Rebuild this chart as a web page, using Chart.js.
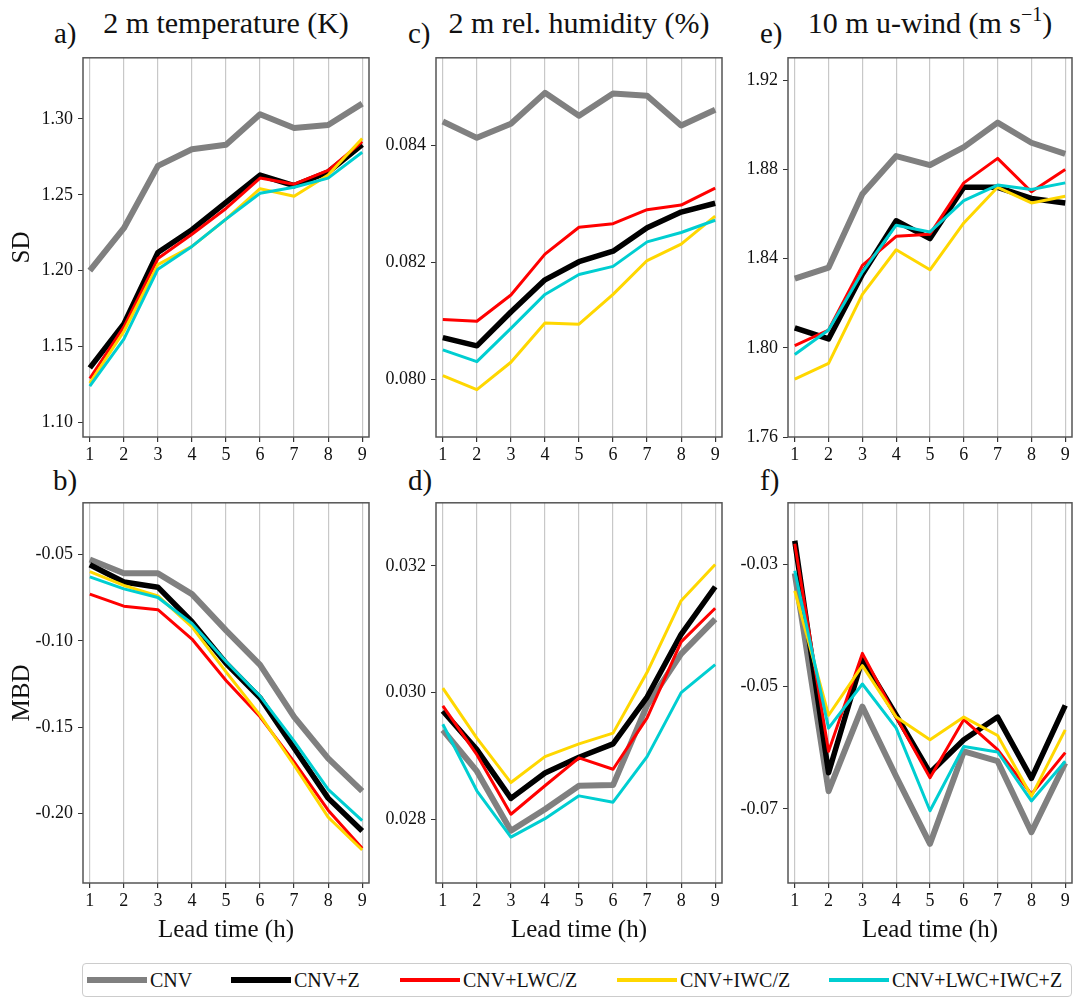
<!DOCTYPE html>
<html>
<head>
<meta charset="utf-8">
<title>SD and MBD by lead time</title>
<script src="https://cdn.jsdelivr.net/npm/chart.js@4.4.1/dist/chart.umd.min.js"></script>
<style>
    body {
        margin: 0;
        width: 1074px;
        height: 998px;
        overflow: hidden;
        position: relative;
        background: #fff;
        color: #111;
        font-family: "Liberation Serif", "Times New Roman", serif;
    }
    canvas { position: absolute; }
    .tag { position: absolute; font-size: 29px; line-height: 29px; }
    .head { position: absolute; font-size: 30px; line-height: 30px; text-align: center; white-space: nowrap; }
    .head sup { font-size: 20px; vertical-align: 12px; line-height: 0; }
    #legend {
        position: absolute; left: 82px; top: 963px; width: 990px; height: 34px;
        border: 1px solid #ccc; border-radius: 4px; box-sizing: border-box;
    }
    #legend .swatch { position: absolute; top: 16px; }
    #legend .label { position: absolute; top: 6px; font-size: 20px; line-height: 20px; white-space: nowrap; }
</style>
</head>
<body>

<div class="tag" style="left:54px;top:19px">a)</div>
<div class="tag" style="left:408px;top:19px">c)</div>
<div class="tag" style="left:760px;top:19px">e)</div>
<div class="tag" style="left:53px;top:466px">b)</div>
<div class="tag" style="left:408px;top:466px">d)</div>
<div class="tag" style="left:760px;top:466px">f)</div>

<div class="head" style="left:83px;width:286px;top:8px">2 m temperature (K)</div>
<div class="head" style="left:436px;width:286px;top:8px">2 m rel. humidity (%)</div>
<div class="head" style="left:788px;width:284px;top:8px">10 m u-wind (m s<sup>−1</sup>)</div>

<div id="legend"></div>

<script>
const FONT = '"Liberation Serif", "Times New Roman", serif';

const leadTimes = [1, 2, 3, 4, 5, 6, 7, 8, 9];
const seriesNames = ['CNV', 'CNV+Z', 'CNV+LWC/Z', 'CNV+IWC/Z', 'CNV+LWC+IWC+Z'];
const seriesColors = ['#808080', '#000000', '#ff0000', '#ffd700', '#00ced1'];
const seriesWidths = [6, 5.5, 3, 3, 3];

// rows follow seriesNames
const sdT2m = [
    [1.200, 1.228, 1.269, 1.280, 1.283, 1.303, 1.294, 1.296, 1.310],
    [1.136, 1.165, 1.212, 1.227, 1.245, 1.263, 1.256, 1.265, 1.283],
    [1.129, 1.163, 1.208, 1.224, 1.241, 1.261, 1.257, 1.266, 1.285],
    [1.126, 1.160, 1.204, 1.216, 1.234, 1.254, 1.249, 1.263, 1.287],
    [1.124, 1.155, 1.201, 1.216, 1.234, 1.251, 1.255, 1.261, 1.278]
];
const mbdT2m = [
    [-0.053, -0.061, -0.061, -0.073, -0.094, -0.114, -0.144, -0.168, -0.187],
    [-0.056, -0.066, -0.069, -0.089, -0.113, -0.133, -0.162, -0.191, -0.210],
    [-0.073, -0.080, -0.082, -0.099, -0.123, -0.144, -0.170, -0.198, -0.220],
    [-0.060, -0.068, -0.074, -0.092, -0.118, -0.143, -0.172, -0.202, -0.221],
    [-0.063, -0.070, -0.075, -0.090, -0.112, -0.132, -0.158, -0.186, -0.204]
];
const sdRh2m = [
    [0.08441, 0.08413, 0.08437, 0.08490, 0.08451, 0.08489, 0.08485, 0.08434, 0.08461],
    [0.08071, 0.08057, 0.08115, 0.08170, 0.08201, 0.08219, 0.08259, 0.08286, 0.08301],
    [0.08102, 0.08099, 0.08144, 0.08214, 0.08260, 0.08266, 0.08290, 0.08298, 0.08327],
    [0.08006, 0.07982, 0.08029, 0.08096, 0.08094, 0.08145, 0.08203, 0.08231, 0.08279],
    [0.08050, 0.08030, 0.08087, 0.08145, 0.08179, 0.08193, 0.08235, 0.08251, 0.08272]
];
const mbdRh2m = [
    [0.02941, 0.02876, 0.02782, 0.02816, 0.02853, 0.02854, 0.02980, 0.03061, 0.03116],
    [0.02971, 0.02910, 0.02833, 0.02873, 0.02898, 0.02919, 0.02993, 0.03092, 0.03167],
    [0.02979, 0.02902, 0.02808, 0.02853, 0.02897, 0.02879, 0.02960, 0.03080, 0.03133],
    [0.03007, 0.02928, 0.02858, 0.02899, 0.02919, 0.02936, 0.03032, 0.03145, 0.03202],
    [0.02950, 0.02845, 0.02772, 0.02801, 0.02837, 0.02827, 0.02899, 0.03000, 0.03044]
];
const sdU10 = [
    [1.831, 1.836, 1.869, 1.886, 1.882, 1.890, 1.901, 1.892, 1.887],
    [1.809, 1.804, 1.833, 1.857, 1.849, 1.872, 1.872, 1.867, 1.865],
    [1.801, 1.808, 1.837, 1.850, 1.851, 1.874, 1.885, 1.870, 1.880],
    [1.786, 1.793, 1.824, 1.844, 1.835, 1.856, 1.872, 1.865, 1.868],
    [1.797, 1.808, 1.834, 1.855, 1.852, 1.866, 1.873, 1.871, 1.874]
];
const mbdU10 = [
    [-0.0315, -0.0671, -0.0533, -0.0647, -0.0757, -0.0606, -0.0622, -0.0738, -0.0625],
    [-0.0262, -0.0641, -0.0455, -0.0547, -0.0641, -0.0587, -0.0550, -0.0650, -0.0531],
    [-0.0267, -0.0606, -0.0446, -0.0550, -0.0649, -0.0554, -0.0603, -0.0676, -0.0608],
    [-0.0344, -0.0547, -0.0466, -0.0550, -0.0587, -0.0550, -0.0580, -0.0679, -0.0571],
    [-0.0311, -0.0568, -0.0496, -0.0568, -0.0703, -0.0598, -0.0607, -0.0687, -0.0622]
];

const ticksSdT2m = [1.10, 1.15, 1.20, 1.25, 1.30];
const ticksMbdT2m = [-0.05, -0.10, -0.15, -0.20];
const ticksSdRh2m = [0.080, 0.082, 0.084];
const ticksMbdRh2m = [0.028, 0.030, 0.032];
const ticksSdU10 = [1.76, 1.80, 1.84, 1.88, 1.92];
const ticksMbdU10 = [-0.03, -0.05, -0.07];

// box around each plot area
const frame = {
    id: 'frame',
    afterDraw(chart) {
        const {ctx, chartArea: a} = chart;
        ctx.save();
        ctx.strokeStyle = '#555';
        ctx.lineWidth = 1.5;
        ctx.strokeRect(a.left, a.top, a.right - a.left, a.bottom - a.top);
        ctx.restore();
    }
};

function panel(cfg) {
    const cv = document.createElement('canvas');
    cv.width = cfg.w;
    cv.height = cfg.h;
    cv.style.left = cfg.left + 'px';
    cv.style.top = cfg.top + 'px';
    document.body.appendChild(cv);

    const datasets = cfg.rows.map((row, i) => ({
        label: seriesNames[i],
        data: row.map((v, k) => ({x: leadTimes[k], y: v})),
        borderColor: seriesColors[i],
        backgroundColor: seriesColors[i],
        borderWidth: seriesWidths[i],
        borderJoinStyle: 'round',
        pointRadius: 0,
        tension: 0,
        fill: false,
        order: seriesNames.length - i
    }));

    new Chart(cv, {
        type: 'line',
        data: {datasets: datasets},
        plugins: [frame],
        options: {
            responsive: false,
            animation: false,
            layout: {padding: {top: 12, right: 10, left: 0, bottom: 0}},
            plugins: {legend: {display: false}, tooltip: {enabled: false}},
            scales: {
                x: {
                    type: 'linear',
                    min: 0.8,
                    max: 9.2,
                    afterBuildTicks: ax => { ax.ticks = leadTimes.map(v => ({value: v})); },
                    afterFit: ax => { ax.height = cfg.xAxisH; },
                    border: {display: false},
                    grid: {color: '#c8c8c8', lineWidth: 1.2, tickColor: '#333', tickLength: 5},
                    ticks: {
                        color: '#111', padding: 2, maxRotation: 0, autoSkip: false,
                        font: {family: FONT, size: 18},
                        callback: v => String(v)
                    },
                    title: {
                        display: !!cfg.xTitle, text: cfg.xTitle || '', color: '#111',
                        font: {family: FONT, size: 25}, padding: {top: 0, bottom: 5}
                    }
                },
                y: {
                    min: cfg.yMin,
                    max: cfg.yMax,
                    afterBuildTicks: ax => { ax.ticks = cfg.yTicks.map(v => ({value: v})); },
                    afterFit: ax => { ax.width = cfg.yAxisW; },
                    border: {display: false},
                    grid: {drawOnChartArea: false, tickColor: '#333', tickLength: 5},
                    ticks: {
                        color: '#111', padding: 5, autoSkip: false,
                        font: {family: FONT, size: 18},
                        callback: v => v.toFixed(cfg.dec)
                    },
                    title: {
                        display: !!cfg.yTitle, text: cfg.yTitle || '', color: '#111',
                        font: {family: FONT, size: 25}, padding: {top: 7, bottom: 0}
                    }
                }
            }
        }
    });
}

// top row: SD, bottom row: MBD
panel({left: 0,   top: 42,  w: 379, h: 425, yAxisW: 83, xAxisH: 30, rows: sdT2m,  yTicks: ticksSdT2m,  dec: 2, yMin: 1.0905, yMax: 1.3402, yTitle: 'SD'});
panel({left: 376, top: 42,  w: 356, h: 425, yAxisW: 60, xAxisH: 30, rows: sdRh2m, yTicks: ticksSdRh2m, dec: 3, yMin: 0.07901, yMax: 0.08550});
panel({left: 728, top: 42,  w: 354, h: 425, yAxisW: 60, xAxisH: 30, rows: sdU10,  yTicks: ticksSdU10,  dec: 2, yMin: 1.76,   yMax: 1.9301});
panel({left: 0,   top: 487, w: 379, h: 463, yAxisW: 83, xAxisH: 67, rows: mbdT2m,  yTicks: ticksMbdT2m,  dec: 2, yMin: -0.2401, yMax: -0.0202, yTitle: 'MBD', xTitle: 'Lead time (h)'});
panel({left: 376, top: 487, w: 356, h: 463, yAxisW: 60, xAxisH: 67, rows: mbdRh2m, yTicks: ticksMbdRh2m, dec: 3, yMin: 0.026995, yMax: 0.032995, xTitle: 'Lead time (h)'});
panel({left: 728, top: 487, w: 354, h: 463, yAxisW: 60, xAxisH: 67, rows: mbdU10,  yTicks: ticksMbdU10,  dec: 2, yMin: -0.0821, yMax: -0.0200, xTitle: 'Lead time (h)'});

// shared legend along the bottom
const legendX = [4, 148, 317, 534, 746];
const legend = document.getElementById('legend');
seriesNames.forEach((name, i) => {
    const sw = document.createElement('div');
    sw.className = 'swatch';
    const lw = i < 2 ? 6 : 4;
    sw.style.cssText = `left:${legendX[i]}px;width:60px;height:${lw}px;margin-top:${-lw / 2}px;background:${seriesColors[i]}`;
    const tx = document.createElement('div');
    tx.className = 'label';
    tx.style.left = (legendX[i] + 63) + 'px';
    tx.textContent = name;
    legend.appendChild(sw);
    legend.appendChild(tx);
});
</script>
</body>
</html>
